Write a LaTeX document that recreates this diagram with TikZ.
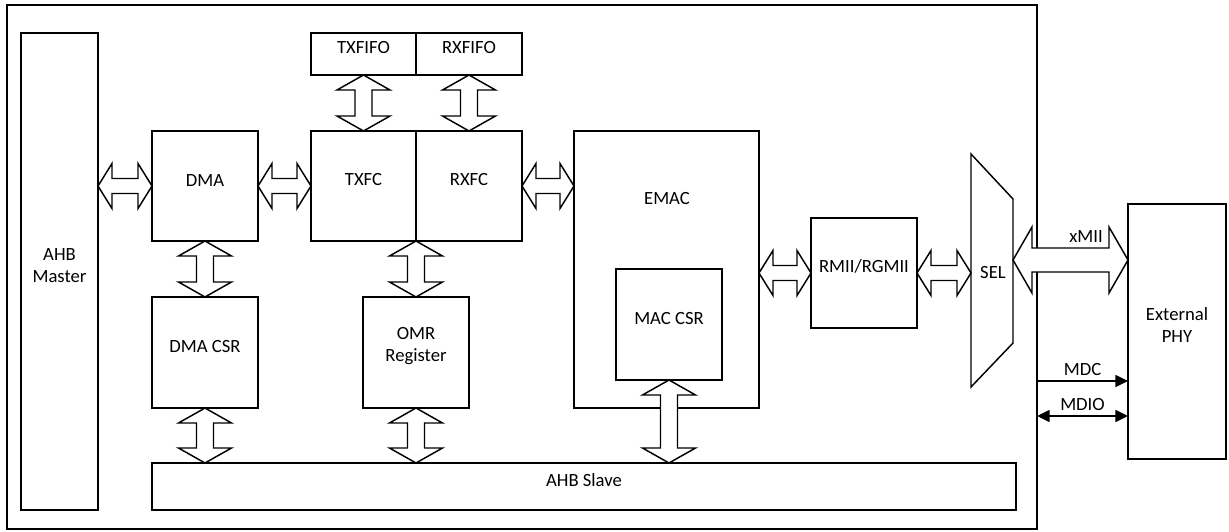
\documentclass[tikz,border=0pt]{standalone}
\usepackage{fontspec}
\setmainfont{Carlito}
\usetikzlibrary{arrows.meta,calc,fit}

\tikzset{
  blk/.style={draw, line width=1.1pt, inner sep=0pt, outer sep=0pt, align=center},
  bus/.style={draw, line width=1.1pt, fill=white, line join=miter},
  sig/.style={line width=1.1pt}
}
\newcommand{\hbus}[5]{%
  \draw[bus] (#1) -- ($(#1)+(#3,-#4)$) -- ($(#1)+(#3,-#5)$) -- ($(#2)+(-#3,-#5)$)
    -- ($(#2)+(-#3,-#4)$) -- (#2) -- ($(#2)+(-#3,#4)$) -- ($(#2)+(-#3,#5)$)
    -- ($(#1)+(#3,#5)$) -- ($(#1)+(#3,#4)$) -- cycle;}
\newcommand{\vbus}[5]{%
  \draw[bus] (#1) -- ($(#1)+(#4,#3)$) -- ($(#1)+(#5,#3)$) -- ($(#2)+(#5,-#3)$)
    -- ($(#2)+(#4,-#3)$) -- (#2) -- ($(#2)+(-#4,-#3)$) -- ($(#2)+(-#5,-#3)$)
    -- ($(#1)+(-#5,#3)$) -- ($(#1)+(-#4,#3)$) -- cycle;}

\begin{document}
\begin{tikzpicture}[x=0.75pt, y=-0.75pt, font=\fontsize{14}{16.5}\selectfont,
    >={Triangle[length=9.5pt,width=9pt]}]
    \useasboundingbox (0,0) rectangle (1229,532);
    \node [blk, line width=2.2pt, fit={(7,5) (1037,529)}] (soc) {};
    \node [blk, fit={(21,33) (98,510)}] (master) {AHB\\Master};
    \node [blk, fit={(152,131) (258,241)}] (dma) {DMA};
    \node [blk, fit={(311,33) (416,75)}] (txfifo) {TXFIFO};
    \node [blk, fit={(416,33) (522,75)}] (rxfifo) {RXFIFO};
    \node [blk, fit={(311,131) (416,241)}] (txfc) {TXFC};
    \node [blk, fit={(416,131) (522,241)}] (rxfc) {RXFC};
    \node [blk, fit={(152,297) (258,408)}] (dmacsr) {DMA CSR};
    \node [blk, fit={(363,297) (469,408)}] (omr) {OMR\\Register};
    \node [blk, fit={(574,131) (759,408)}] (emac) {};
    \node (emaclbl) at (667,199) {EMAC};
    \node [blk, fit={(616,269) (722,380)}] (maccsr) {MAC CSR};
    \node [blk, fit={(811,218) (917,328)}] (rmii) {RMII/RGMII};
    \node [blk, fit={(152,463) (1016,510)}] (slave) {AHB Slave};
    \node [blk, fit={(1128,204) (1226,459)}] (phy) {External\\PHY};
    \draw [sig] (971,154) coordinate (sel-tl) -- (1013,199) coordinate (sel-tr)
        -- (1013,343) coordinate (sel-br) -- (971,387) coordinate (sel-bl) -- cycle;
    \node (sellbl) at (993,273) {SEL};
    \coordinate (selport) at (1013,260);
    \hbus{master.east |- dma.west}{dma.west}{14}{22.5}{7.5}
    \hbus{dma.east}{txfc.west}{14}{22.5}{7.5}
    \hbus{rxfc.east}{emac.west |- rxfc.east}{14}{22.5}{7.5}
    \hbus{emac.east |- rmii.west}{rmii.west}{14}{22.5}{7.5}
    \hbus{rmii.east}{sel-tl |- rmii.east}{14}{22.5}{7.5}
    \hbus{selport}{phy.west |- selport}{19}{33}{12}
    \vbus{txfifo.south}{txfc.north}{15}{26.5}{8.5}
    \vbus{rxfifo.south}{rxfc.north}{15}{26.5}{8.5}
    \vbus{dma.south}{dmacsr.north}{15}{26.5}{8.5}
    \vbus{txfc.south east}{omr.north}{15}{26.5}{8.5}
    \vbus{dmacsr.south}{dmacsr.south |- slave.north}{15}{26.5}{8.5}
    \vbus{omr.south}{omr.south |- slave.north}{15}{26.5}{8.5}
    \vbus{maccsr.south}{maccsr.south |- slave.north}{15}{26.5}{8.5}
    \node (xmiilbl) at (1086,237) {xMII};
    \draw [sig,->] (soc.east |- 0,381) -- (phy.west |- 0,381) node [midway,above] (mdclbl) {MDC};
    \draw [sig,<->] (soc.east |- 0,416) -- (phy.west |- 0,416) node [midway,above] (mdiolbl) {MDIO};
\end{tikzpicture}
\end{document}
